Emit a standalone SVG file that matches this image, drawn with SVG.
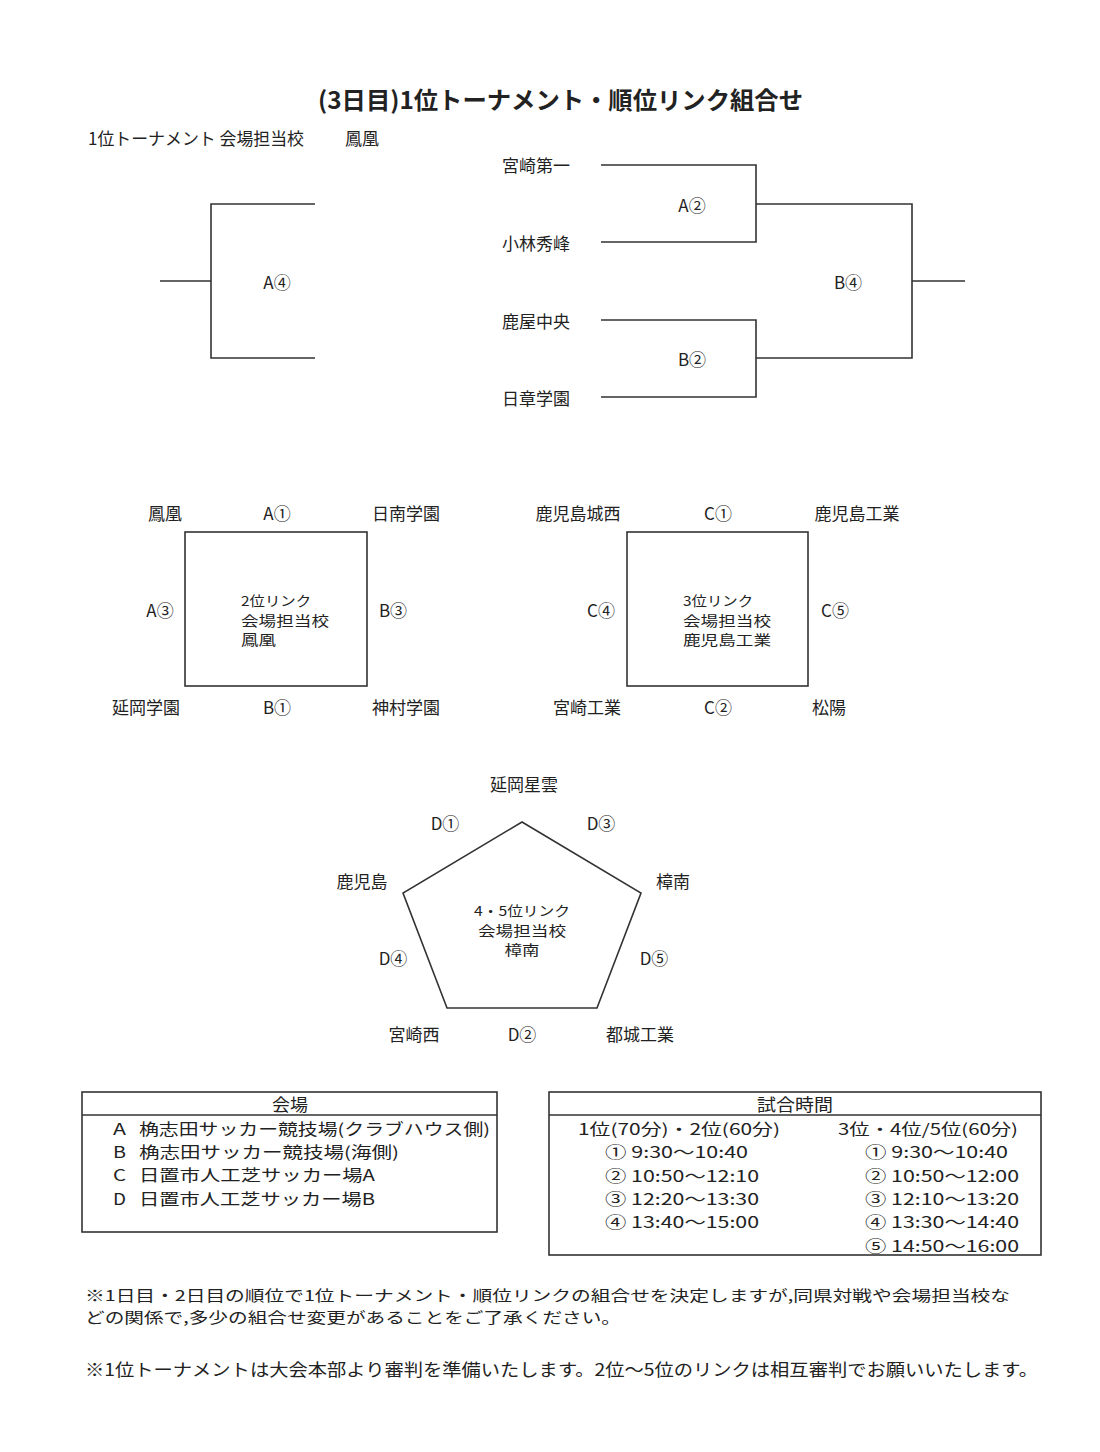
<svg xmlns="http://www.w3.org/2000/svg" width="1100" height="1452" viewBox="0 0 1100 1452">
<style>
text{font-family:"Noto Sans CJK JP","Noto Sans",sans-serif;fill:#222;dominant-baseline:central}
.t{font-size:24px;font-weight:bold}
.n{font-size:17px}
.m{text-anchor:middle}
.c{font-size:13.5px}
.tb{font-size:15.5px}
.th{font-size:17px}
.nt{font-size:15px}
.ln{stroke:#333;stroke-width:1.6;fill:none}
</style>
<rect width="1100" height="1452" fill="#fff"/>
<g id="title">
<text class="t" x="318" y="98" textLength="485" lengthAdjust="spacingAndGlyphs">(3日目)1位トーナメント・順位リンク組合せ</text>
<text class="n" x="88" y="137" textLength="216" lengthAdjust="spacingAndGlyphs">1位トーナメント 会場担当校</text>
<text class="n" x="345" y="137">鳳凰</text>
</g>
<g id="connectors">
<path class="ln" d="M315,204H211V358H315M211,281H160"/>
<path class="ln" d="M601,165H756V242H601M601,320H756V397H601M756,204H912V358H756M912,281H965"/>
<rect class="ln" x="185" y="532" width="182" height="154"/>
<rect class="ln" x="627" y="532" width="181" height="154"/>
<polygon class="ln" points="522,822 641,893 597,1008 447,1008 403,893"/>
</g>
<g id="tournament">
<text class="n m" x="277" y="281">A④</text>
<text class="n" x="502" y="164">宮崎第一</text>
<text class="n" x="502" y="242">小林秀峰</text>
<text class="n" x="502" y="320">鹿屋中央</text>
<text class="n" x="502" y="397">日章学園</text>
<text class="n m" x="692" y="204">A②</text>
<text class="n m" x="692" y="358">B②</text>
<text class="n m" x="848" y="281">B④</text>
</g>
<g id="link2">
<text class="n m" x="165" y="512">鳳凰</text>
<text class="n m" x="277" y="512">A①</text>
<text class="n m" x="406" y="512">日南学園</text>
<text class="n m" x="160" y="609">A③</text>
<text class="n m" x="393" y="609">B③</text>
<text class="n m" x="146" y="706">延岡学園</text>
<text class="n m" x="277" y="706">B①</text>
<text class="n m" x="406" y="706">神村学園</text>
<text class="c" x="241" y="600" textLength="70" lengthAdjust="spacingAndGlyphs">2位リンク</text>
<text class="c" x="241" y="619.5" textLength="88" lengthAdjust="spacingAndGlyphs">会場担当校</text>
<text class="c" x="241" y="639" textLength="35" lengthAdjust="spacingAndGlyphs">鳳凰</text>
</g>
<g id="link3">
<text class="n m" x="578" y="512">鹿児島城西</text>
<text class="n m" x="718" y="512">C①</text>
<text class="n m" x="857" y="512">鹿児島工業</text>
<text class="n m" x="601" y="609">C④</text>
<text class="n m" x="835" y="609">C⑤</text>
<text class="n m" x="587" y="706">宮崎工業</text>
<text class="n m" x="718" y="706">C②</text>
<text class="n m" x="829" y="706">松陽</text>
<text class="c" x="683" y="600" textLength="70" lengthAdjust="spacingAndGlyphs">3位リンク</text>
<text class="c" x="683" y="619.5" textLength="88" lengthAdjust="spacingAndGlyphs">会場担当校</text>
<text class="c" x="683" y="639" textLength="88" lengthAdjust="spacingAndGlyphs">鹿児島工業</text>
</g>
<g id="link45">
<text class="n m" x="524" y="783">延岡星雲</text>
<text class="n m" x="445" y="822">D①</text>
<text class="n m" x="601" y="822">D③</text>
<text class="n m" x="362" y="880">鹿児島</text>
<text class="n m" x="673" y="880">樟南</text>
<text class="n m" x="393" y="957">D④</text>
<text class="n m" x="654" y="957">D⑤</text>
<text class="n m" x="414" y="1033">宮崎西</text>
<text class="n m" x="522" y="1033">D②</text>
<text class="n m" x="640" y="1033">都城工業</text>
<text class="c m" x="522" y="910" textLength="96" lengthAdjust="spacingAndGlyphs">4・5位リンク</text>
<text class="c m" x="522" y="929.5" textLength="88" lengthAdjust="spacingAndGlyphs">会場担当校</text>
<text class="c m" x="522" y="949" textLength="35" lengthAdjust="spacingAndGlyphs">樟南</text>
</g>
<g id="venue">
<rect class="ln" x="82" y="1092" width="415" height="140"/>
<line class="ln" x1="82" y1="1115" x2="497" y2="1115"/>
<text class="th m" x="290" y="1103" textLength="36" lengthAdjust="spacingAndGlyphs">会場</text>
<text class="tb" x="113" y="1128" textLength="13" lengthAdjust="spacingAndGlyphs">A</text>
<text class="tb" x="139" y="1128" textLength="351" lengthAdjust="spacingAndGlyphs">桷志田サッカー競技場(クラブハウス側)</text>
<text class="tb" x="113" y="1151" textLength="13" lengthAdjust="spacingAndGlyphs">B</text>
<text class="tb" x="139" y="1151" textLength="260" lengthAdjust="spacingAndGlyphs">桷志田サッカー競技場(海側)</text>
<text class="tb" x="113" y="1174" textLength="13" lengthAdjust="spacingAndGlyphs">C</text>
<text class="tb" x="139" y="1174" textLength="236" lengthAdjust="spacingAndGlyphs">日置市人工芝サッカー場A</text>
<text class="tb" x="113" y="1198" textLength="13" lengthAdjust="spacingAndGlyphs">D</text>
<text class="tb" x="139" y="1198" textLength="236" lengthAdjust="spacingAndGlyphs">日置市人工芝サッカー場B</text>
</g>
<g id="times">
<rect class="ln" x="549" y="1092" width="492" height="163"/>
<line class="ln" x1="549" y1="1115" x2="1041" y2="1115"/>
<text class="th m" x="795" y="1103" textLength="76" lengthAdjust="spacingAndGlyphs">試合時間</text>
<text class="tb" x="578" y="1128" textLength="202" lengthAdjust="spacingAndGlyphs">1位(70分)・2位(60分)</text>
<text class="tb" x="605" y="1151" textLength="143" lengthAdjust="spacingAndGlyphs">① 9:30〜10:40</text>
<text class="tb" x="605" y="1175" textLength="154" lengthAdjust="spacingAndGlyphs">② 10:50〜12:10</text>
<text class="tb" x="605" y="1198" textLength="154" lengthAdjust="spacingAndGlyphs">③ 12:20〜13:30</text>
<text class="tb" x="605" y="1221" textLength="154" lengthAdjust="spacingAndGlyphs">④ 13:40〜15:00</text>
<text class="tb" x="838" y="1128" textLength="180" lengthAdjust="spacingAndGlyphs">3位・4位/5位(60分)</text>
<text class="tb" x="865" y="1151" textLength="143" lengthAdjust="spacingAndGlyphs">① 9:30〜10:40</text>
<text class="tb" x="865" y="1175" textLength="154" lengthAdjust="spacingAndGlyphs">② 10:50〜12:00</text>
<text class="tb" x="865" y="1198" textLength="154" lengthAdjust="spacingAndGlyphs">③ 12:10〜13:20</text>
<text class="tb" x="865" y="1221" textLength="154" lengthAdjust="spacingAndGlyphs">④ 13:30〜14:40</text>
<text class="tb" x="865" y="1245" textLength="154" lengthAdjust="spacingAndGlyphs">⑤ 14:50〜16:00</text>
</g>
<g id="notes">
<text class="nt" x="85" y="1294" textLength="925" lengthAdjust="spacingAndGlyphs">※1日目・2日目の順位で1位トーナメント・順位リンクの組合せを決定しますが,同県対戦や会場担当校な</text>
<text class="nt" x="85" y="1316" textLength="536" lengthAdjust="spacingAndGlyphs">どの関係で,多少の組合せ変更があることをご了承ください。</text>
<text class="n" x="85" y="1368" textLength="953" lengthAdjust="spacingAndGlyphs">※1位トーナメントは大会本部より審判を準備いたします。2位〜5位のリンクは相互審判でお願いいたします。</text>
</g>
</svg>
